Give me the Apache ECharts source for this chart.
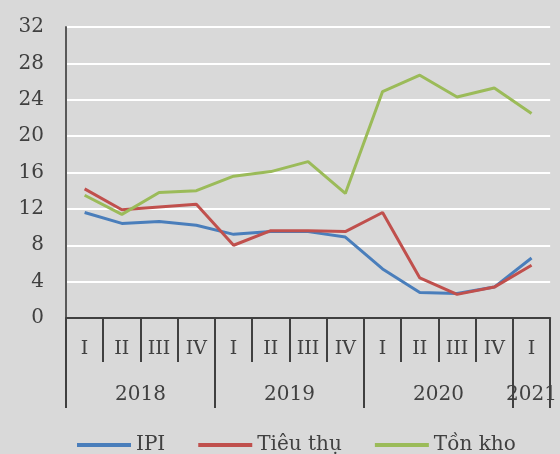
<!DOCTYPE html>
<html>
<head>
<meta charset="utf-8">
<script src="https://cdn.jsdelivr.net/npm/echarts@6/dist/echarts.min.js"></script>
<style>
html, body { margin: 0; padding: 0; background: #d9d9d9; }
#container { width: 560px; height: 454px; }
</style>
</head>
<body>
<div id="container"></div>
<script>
var quarters = ['I', 'II', 'III', 'IV', 'I', 'II', 'III', 'IV', 'I', 'II', 'III', 'IV', 'I'];
// year labels on a half-quarter grid (27 points, boundaryGap false)
var years = [];
for (var i = 0; i <= 26; i++) years.push('');
years[4] = '2018';
years[12] = '2019';
years[20] = '2020';
years[25] = '2021';
var yearBreaks = [0, 8, 16, 24, 26];

var ipi = [11.6, 10.4, 10.6, 10.2, 9.2, 9.5, 9.5, 8.9, 5.4, 2.8, 2.7, 3.4, 6.6];
var tieuThu = [14.2, 11.9, 12.2, 12.5, 8.0, 9.6, 9.6, 9.5, 11.6, 4.4, 2.6, 3.4, 5.8];
var tonKho = [13.5, 11.4, 13.8, 14.0, 15.6, 16.1, 17.2, 13.7, 24.9, 26.7, 24.3, 25.3, 22.5];

var font = 'DejaVu Serif';
var dom = document.getElementById('container');
var myChart = echarts.init(dom);

var option = {
    backgroundColor: '#d9d9d9',
    animation: false,
    color: ['#4a7ebb', '#c0504d', '#9bbb59'],
    grid: { left: 66, right: 7, top: 27, bottom: 136, containLabel: false },
    legend: {
        left: 72,
        top: 430,
        icon: 'rect',
        itemWidth: 54,
        itemHeight: 4,
        itemGap: 33,
        textStyle: { fontFamily: font, fontSize: 20, color: '#404040' },
        data: ['IPI', 'Tiêu thụ', 'Tồn kho']
    },
    xAxis: [
        {
            type: 'category',
            data: quarters,
            boundaryGap: true,
            axisLine: { lineStyle: { color: '#404040', width: 2 } },
            axisTick: { show: true, interval: 0, length: 44, lineStyle: { color: '#404040', width: 2 } },
            axisLabel: { interval: 0, margin: 22, fontFamily: font, fontSize: 19, color: '#404040' }
        },
        {
            type: 'category',
            data: years,
            boundaryGap: false,
            position: 'bottom',
            axisLine: { show: false },
            axisTick: {
                show: true,
                length: 90,
                interval: function (idx) { return yearBreaks.indexOf(idx) >= 0; },
                lineStyle: { color: '#404040', width: 2 }
            },
            axisLabel: { interval: 0, margin: 67, fontFamily: font, fontSize: 20, color: '#404040' }
        }
    ],
    yAxis: {
        type: 'value',
        min: 0,
        max: 32,
        interval: 4,
        axisLine: { show: true, lineStyle: { color: '#595959', width: 2 } },
        axisTick: { show: false },
        splitLine: { lineStyle: { color: '#ffffff', width: 2 } },
        axisLabel: { margin: 22, fontFamily: font, fontSize: 20, color: '#404040' }
    },
    series: [
        { name: 'IPI', type: 'line', xAxisIndex: 0, data: ipi, symbol: 'none', lineStyle: { width: 3 } },
        { name: 'Tiêu thụ', type: 'line', xAxisIndex: 0, data: tieuThu, symbol: 'none', lineStyle: { width: 3 } },
        { name: 'Tồn kho', type: 'line', xAxisIndex: 0, data: tonKho, symbol: 'none', lineStyle: { width: 3 } }
    ]
};
myChart.setOption(option, true);
</script>
</body>
</html>
